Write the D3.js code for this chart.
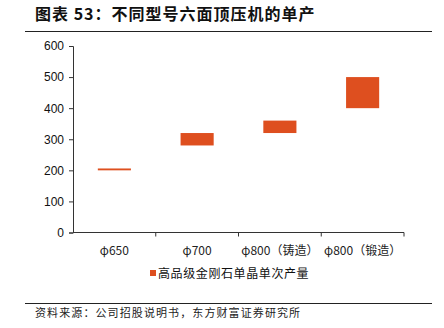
<!DOCTYPE html>
<html>
<head>
<meta charset="utf-8">
<script src="https://cdn.jsdelivr.net/npm/d3@7"></script>
<style>
  html, body { margin: 0; padding: 0; background: #fff; }
  svg { display: block; }
</style>
</head>
<body>
<svg id="chart" width="444" height="328"></svg>
<script>
// Press models and per-run output range (low / high)
const categories = ["φ650", "φ700", "φ800（铸造）", "φ800（锻造）"];
const lowValues = [200, 280, 320, 400];
const highValues = [206, 320, 360, 500];
const yTicks = [0, 100, 200, 300, 400, 500, 600];
const seriesName = "高品级金刚石单晶单次产量";
const titleText = "图表 53：不同型号六面顶压机的单产";
const sourceText = "资料来源：公司招股说明书，东方财富证券研究所";

const svg = d3.select("#chart");
const barColor = "#DE4F1F";
const cjk = "'Noto Sans CJK SC', 'Noto Sans', sans-serif";
const latin = "'Liberation Sans', Arial, sans-serif";

// Header
svg.append("text")
  .attr("x", 35).attr("y", 20)
  .attr("font-family", cjk).attr("font-weight", "bold")
  .attr("font-size", 16).attr("letter-spacing", 1).attr("fill", "#111")
  .attr("xml:space", "preserve")
  .text(titleText);
svg.append("line")
  .attr("x1", 25).attr("x2", 432).attr("y1", 31.5).attr("y2", 31.5)
  .attr("stroke", "#222").attr("stroke-width", 1);

// Plot area
const plot = { left: 73, right: 404, top: 46, bottom: 232.5 };
const x = d3.scaleBand().domain(categories).range([plot.left, plot.right]).paddingInner(0).paddingOuter(0);
const y = d3.scaleLinear().domain([0, 600]).range([plot.bottom, plot.top]);

const yAxis = d3.axisLeft(y).tickValues(yTicks).tickSize(4).tickPadding(5);
const gy = svg.append("g").attr("transform", `translate(${plot.left},0)`).call(yAxis);
gy.select(".domain").attr("stroke", "#333");
gy.selectAll(".tick line").attr("stroke", "#333");
gy.selectAll(".tick text").attr("font-family", latin).attr("font-size", 12).attr("fill", "#111");

// X axis with ticks at category boundaries
const gx = svg.append("g").attr("transform", `translate(0,${plot.bottom})`);
gx.append("line").attr("x1", plot.left).attr("x2", plot.right).attr("y1", 0).attr("y2", 0)
  .attr("stroke", "#333");
const bounds = categories.map(c => x(c)).concat([x(categories[categories.length - 1]) + x.bandwidth()]);
gx.selectAll(".bt").data(bounds.slice(1)).join("line")
  .attr("x1", d => d).attr("x2", d => d).attr("y1", 0).attr("y2", 4)
  .attr("stroke", "#333");
gx.selectAll(".lbl").data(categories).join("text")
  .attr("x", d => x(d) + x.bandwidth() / 2).attr("y", 22)
  .attr("text-anchor", "middle")
  .attr("font-family", cjk).attr("font-size", 12).attr("fill", "#222")
  .text(d => d);

// Floating range bars
const barW = x.bandwidth() * 0.4;
const rows = categories.map((c, i) => ({ c, lo: lowValues[i], hi: highValues[i] }));
svg.selectAll(".bar").data(rows).join("rect")
  .attr("x", d => x(d.c) + (x.bandwidth() - barW) / 2)
  .attr("width", barW)
  .attr("y", d => y(d.hi))
  .attr("height", d => Math.max(1, y(d.lo) - y(d.hi)))
  .attr("fill", barColor);

// Legend
const lg = svg.append("g").attr("transform", "translate(150,274)");
lg.append("rect").attr("x", 0).attr("y", -4).attr("width", 6).attr("height", 6).attr("fill", barColor);
lg.append("text").attr("x", 8).attr("y", 0).attr("dy", "0.35em")
  .attr("font-family", cjk).attr("font-size", 12).attr("letter-spacing", 0.6)
  .attr("fill", "#111").text(seriesName);

// Footer
svg.append("line")
  .attr("x1", 25).attr("x2", 432).attr("y1", 303.5).attr("y2", 303.5)
  .attr("stroke", "#222").attr("stroke-width", 1);
svg.append("text")
  .attr("x", 35).attr("y", 317)
  .attr("font-family", cjk).attr("font-size", 11).attr("letter-spacing", 1.1)
  .attr("fill", "#222").text(sourceText);
</script>
</body>
</html>
